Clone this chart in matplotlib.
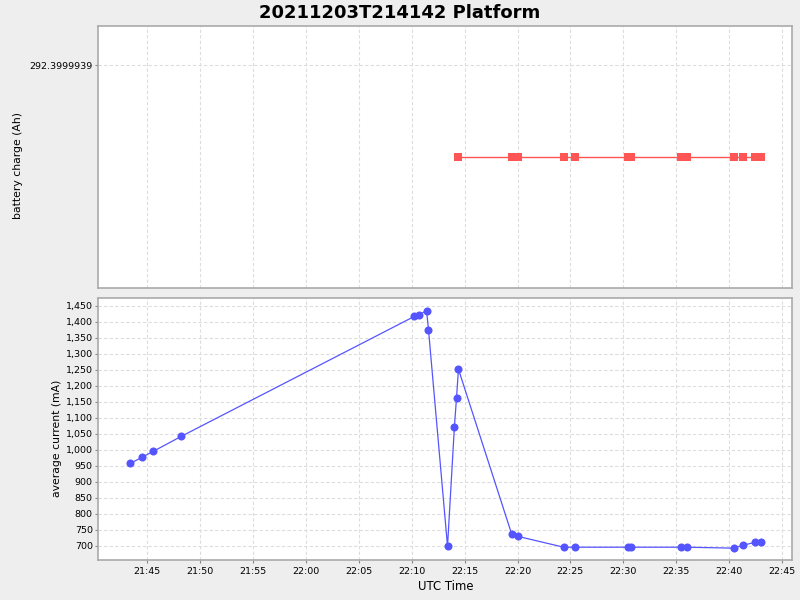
import datetime as dt
import numpy as np
import matplotlib
matplotlib.use('Agg')
import matplotlib.pyplot as plt
import matplotlib.dates as mdates
import matplotlib.ticker as mticker

# average current samples (UTC time, mA)
current_times = ['21:43:23', '21:44:32', '21:45:34', '21:48:13', '22:10:14', '22:10:44',
                 '22:11:24', '22:11:35', '22:13:23', '22:14:02', '22:14:14', '22:14:25',
                 '22:19:27', '22:20:01', '22:24:22', '22:25:25', '22:30:25', '22:30:44',
                 '22:35:26', '22:36:00', '22:40:27', '22:41:18', '22:42:26', '22:43:00']
current_ma = [957, 977, 995, 1042, 1417, 1423, 1435, 1376, 698, 1072, 1162, 1252,
              736, 729, 695, 695, 695, 695, 695, 695, 692, 701, 710, 710]

# battery charge samples (UTC time, Ah)
charge_times = ['22:14:25', '22:19:27', '22:20:01', '22:24:22', '22:25:25', '22:30:25',
                '22:30:44', '22:35:26', '22:36:00', '22:40:27', '22:41:18', '22:42:26',
                '22:43:00']
charge_ah = [292.3999938964844] * len(charge_times)

charge_tick = 292.3999939
title = '20211203T214142 Platform'


def to_dt(s):
    return dt.datetime.strptime('2021-12-03 ' + s, '%Y-%m-%d %H:%M:%S')


t_cur = [to_dt(s) for s in current_times]
t_chg = [to_dt(s) for s in charge_times]

BG = '#eeeeee'
GRID = '#dddddd'
SPINE = '#aaaaaa'
RED = '#ff5555'
BLUE = '#5555ff'

plt.rcParams['font.family'] = ['DejaVu Sans']

fig = plt.figure(figsize=(8, 6), dpi=100, facecolor=BG)
ax1 = fig.add_axes([0.1229, 0.52, 0.8675, 0.4362])
ax2 = fig.add_axes([0.1229, 0.0667, 0.8675, 0.4362], sharex=ax1)

ax1.plot(t_chg, charge_ah, color=RED, lw=1, marker='s', ms=5.2, mew=0)
ax2.plot(t_cur, current_ma, color=BLUE, lw=0.9, marker='o', ms=5.8, mew=0)

for ax in (ax1, ax2):
    ax.set_facecolor('white')
    for sp in ax.spines.values():
        sp.set_color(SPINE)
        sp.set_linewidth(1.2)
    ax.grid(True, color=GRID, ls=(0, (3, 2)), lw=0.8)
    ax.set_axisbelow(True)
    ax.tick_params(colors='#888888', labelcolor='black', labelsize=6.8, length=2, width=0.8, pad=2)

# x axis (shared)
ax2.set_xlim(to_dt('21:40:22'), to_dt('22:45:59'))
ax2.xaxis.set_major_locator(mdates.MinuteLocator(byminute=range(0, 60, 5)))
ax2.xaxis.set_major_formatter(mdates.DateFormatter('%H:%M'))
ax2.tick_params(axis='x', pad=3)
ax2.set_xlabel('UTC Time', fontsize=8.4, labelpad=3)
ax1.tick_params(axis='x', bottom=False, labelbottom=False)

# top: battery charge
ax1.set_ylim(charge_ah[0] - 5e-9, charge_ah[0] + 5e-9)
ax1.set_yticks([charge_tick], labels=['292.3999939'])
ax1.set_ylabel('battery charge (Ah)', fontsize=7.8)
ax1.yaxis.set_label_coords(-0.108, 0.468)

# bottom: average current
ax2.set_ylim(655, 1474)
ax2.yaxis.set_major_locator(mticker.MultipleLocator(50))
ax2.yaxis.set_major_formatter(mticker.FuncFormatter(lambda v, p: '{:,.0f}'.format(v)))
ax2.set_ylabel('average current (mA)', fontsize=7.8)
ax2.yaxis.set_label_coords(-0.053, 0.465)

fig.text(0.5, 0.979, title, ha='center', va='center', fontsize=13, fontweight='bold')

fig.savefig('out.png', dpi=100, facecolor=BG)
